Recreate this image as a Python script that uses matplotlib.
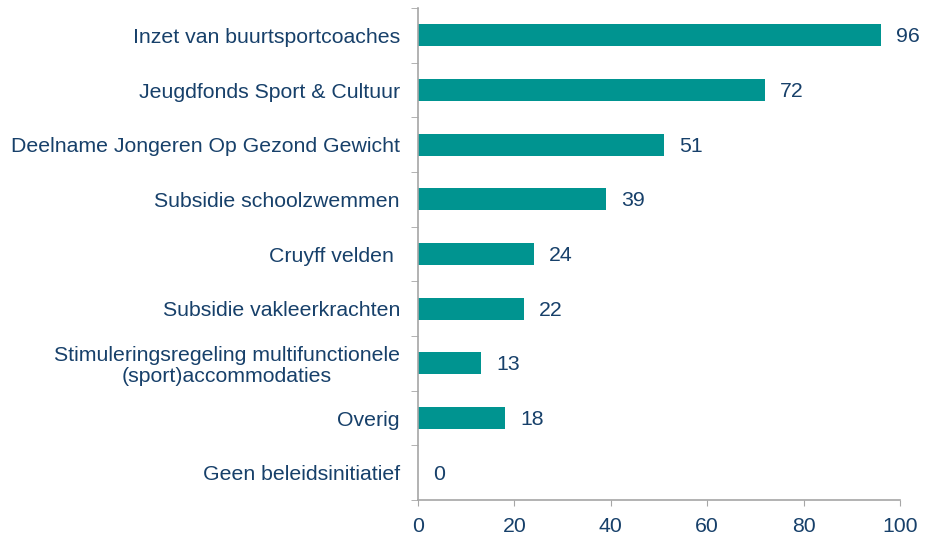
import matplotlib

matplotlib.use("Agg")
import matplotlib.pyplot as plt
import numpy as np

categories = [
    "Inzet van buurtsportcoaches",
    "Jeugdfonds Sport & Cultuur",
    "Deelname Jongeren Op Gezond Gewicht",
    "Subsidie schoolzwemmen",
    "Cruyff velden ",
    "Subsidie vakleerkrachten",
    "Stimuleringsregeling multifunctionele\n(sport)accommodaties",
    "Overig",
    "Geen beleidsinitiatief",
]
values = [96, 72, 51, 39, 24, 22, 13, 18, 0]
x_ticks = [0, 20, 40, 60, 80, 100]

BAR = "#009490"
TEXT = "#17406A"
AXIS = "#A6A6A6"
FS = 15.3

plt.rcParams["font.family"] = ["Liberation Sans", "DejaVu Sans"]

fig = plt.figure(figsize=(9.28, 5.38), dpi=100)
ax = fig.add_axes([0.4504, 0.0706, 0.5194, 0.9144])

y = np.arange(len(categories))
ax.barh(y, values, height=0.4, color=BAR)
for yi, v in zip(y, values):
    ax.annotate(str(v), (v, yi), xytext=(11, -1), textcoords="offset points",
                va="center", ha="left", fontsize=FS, color=TEXT)

ax.set_xlim(0, 100)
ax.set_ylim(len(categories) - 0.5, -0.5)
ax.set_xticks(x_ticks)
ax.set_yticks(y)
ax.set_yticklabels(categories, multialignment="center", linespacing=1.1)
ax.set_yticks(np.arange(len(categories) + 1) - 0.5, minor=True)

ax.tick_params(axis="y", which="major", length=0, pad=13, labelsize=FS, labelcolor=TEXT)
ax.tick_params(axis="y", which="minor", length=5, color=AXIS, direction="out")
ax.tick_params(axis="x", length=4, color=AXIS, labelsize=FS, labelcolor=TEXT, pad=8)

for side in ("top", "right"):
    ax.spines[side].set_visible(False)
for side in ("left", "bottom"):
    ax.spines[side].set_color(AXIS)
    ax.spines[side].set_linewidth(1.2)

fig.savefig("out.png", dpi=100)
